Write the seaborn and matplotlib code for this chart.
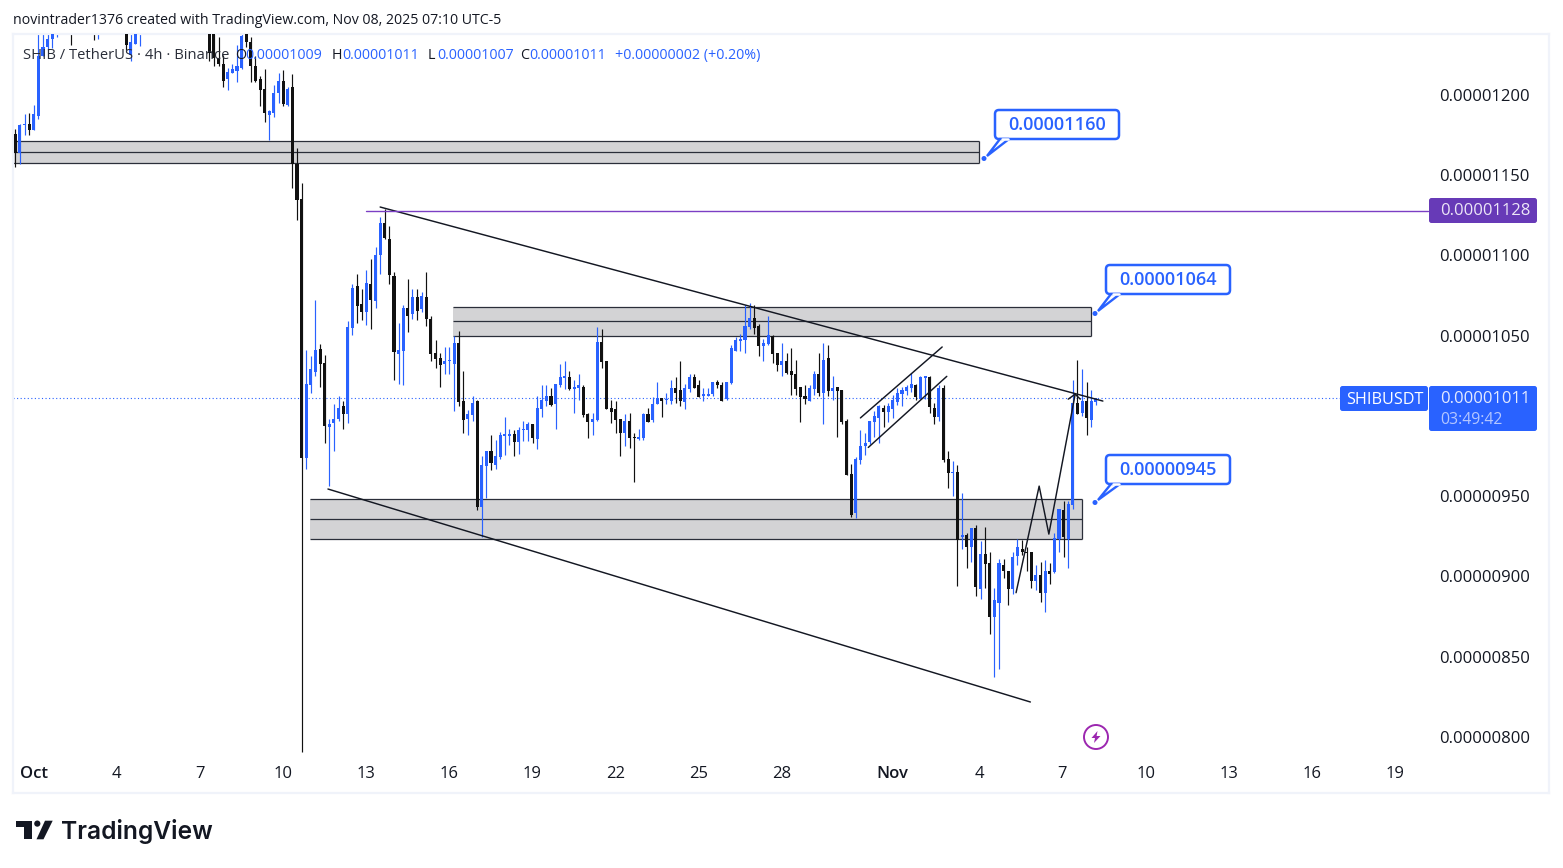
import numpy as np
import pandas as pd
import seaborn as sns
import matplotlib
matplotlib.use("Agg")
import matplotlib.pyplot as plt
from matplotlib.patches import Rectangle, FancyBboxPatch, Polygon, Circle

# SHIB/USDT 4h candles, prices in units of 1e-8 USDT
opens = [1176,1164,1181,1182,1178,1187,1224,1230,1235,1238,
 1258,1266,1260,1245,1258,1268,1262,1250,1245,1255,
 1270,1265,1258,1250,1262,1225,1232,1240,1256,1264,
 1258,1268,1262,1262,1275,1284,1278,1268,1274,1262,
 1268,1270,1260,1245,1223,1219,1210,1214,1215,1217,
 1245,1233,1218,1210,1204,1187.5,1189,1201,1209,1194,
 1205,1157,1135,974,1019,1027.6,1042,1033,993,995.5,
 998,1006,1001,1055,1081,1070,1065,1082,1071.7,1100,
 1120,1110,1087,1038.6,1040.5,1067.3,1063.6,1074,1066.7,1074,
 1060.4,1039,1036,1032.6,1034,1032.6,1045.3,1009.4,998.2,1000.6,
 1009.4,943,969,978,969.5,974.5,987.5,987.8,989,984,
 991,991,995,985.7,1004.4,1009.4,1012.5,1007.5,1019.3,1023.7,
 1024.3,1016.8,1017.5,1018,1001,996.3,997.5,1046,1034.3,1005,
 1004.4,998,989.4,997,986.5,985.7,986.3,1001.3,997.5,1007.5,
 1011.2,1009.8,1009.4,1017.5,1016.2,1008.7,1016.8,1024.3,1019.3,1012.5,
 1012.5,1013.7,1021.2,1019.3,1010.6,1020.6,1040.5,1046.8,1047.4,1055.5,
 1061,1056,1043.6,1044.9,1049.9,1039.3,1031.8,1034.3,1028,1026.2,
 1018,1012.5,1009.4,1016.8,1026.2,1014.4,1036.2,1015.6,1018,1016.2,
 996.9,963.9,939.6,972.5,981.3,983.7,996.2,998.7,1004.7,1002.4,
 1004.3,1008.7,1013.7,1015.5,1017.4,1019.3,1010.5,1023.8,1024.5,1004.9,
 999.3,1017.4,973.2,964.4,965,924.3,925.8,918.3,930.2,892.2,
 914,908.4,874.7,883.5,907.1,903.4,892.2,912.7,917.1,915.2,
 915.2,897.2,900.9,889.7,903.4,902.8,923.3,941.4,923.3,944.5,
 1008,1001.9,1009.3,997.5,1009]
highs = [1179,1182,1188,1189,1194,1240,1240,1245,1250,1262,
 1270,1275,1268,1262,1272,1280,1270,1262,1258,1275,
 1282,1278,1268,1270,1268,1240,1252,1262,1270,1275,
 1272,1282,1285,1282,1290,1296,1288,1280,1284,1272,
 1278,1276,1268,1255,1236,1225,1217,1219,1231,1245,
 1250,1236,1224,1212,1216,1190.5,1206,1214,1215.6,1205,
 1213,1167,1145,1041,1037.4,1072,1045,1038,998,1007.5,
 1012.5,1009.4,1059,1082,1088.5,1079,1091,1098,1105.5,1124,
 1128.8,1118.4,1090,1058,1069,1085.4,1079,1079,1077,1090,
 1062,1047.4,1039,1043,1043,1050,1053,1028,1004,1012.5,
 1010,975,978,988,985,990,999.4,992,991.3,993,
 997,996.3,995,1012.5,1019.3,1019.3,1017.5,1020,1032.4,1034.3,
 1028,1022.5,1026,1019.3,1001.7,1001.9,1055.5,1054.2,1034.3,1010,
 1009.4,998,1001.3,1001.9,989.4,992,1001.9,1005,1011.7,1021.2,
 1011.2,1014.4,1022.5,1024.3,1034.3,1020,1026.2,1026.2,1022.5,1017.5,
 1017.5,1021.2,1022.5,1021.2,1021.2,1044.3,1049.2,1051,1069,1070.4,
 1069,1057.4,1048,1062.3,1050.5,1039.3,1045.5,1039.3,1042.4,1034.9,
 1018,1019.3,1019.3,1028,1039.3,1045.5,1044.3,1025,1018,1016.2,
 998.2,970,974.5,991.2,989.4,996.8,1003,1006.8,1006.8,1007.8,
 1013,1017.2,1018,1019.3,1026.7,1020,1024.9,1024.9,1024.9,1007.8,
 1019.3,1019.3,978.1,971.9,969.4,952,927,930.2,932,922,
 930.8,915.2,892.8,910.9,910.9,903.4,915.2,923.1,922.7,918.3,
 915.2,907.1,909,910.2,908.4,927.1,942,947,947,1022.4,
 1034.9,1029.3,1021.2,1016.2,1011]
lows = [1155,1157,1175,1175,1178,1185,1224,1228,1229,1236,
 1252,1255,1231,1240,1250,1258,1246,1234,1235,1250,
 1258,1252,1244,1246,1228,1221,1232,1230.5,1248,1252,
 1246,1260,1238,1238.5,1262,1270,1262,1254,1260,1250,
 1258,1256,1221,1218,1218,1205,1203,1214,1208,1216,
 1230,1208,1208,1193,1183,1172,1186.5,1195,1193,1193,
 1142,1122,790.6,967,1014.5,1025,1018,983.4,956.4,978.4,
 997,992,995.4,1050.7,1058,1060,1057,1054.4,1067.3,1088.5,
 1110.5,1082.5,1022.4,1020,1019.3,1052.4,1060.7,1060,1065,1056,
 1034.3,1030,1018.3,1026,1026,1003.3,1006.5,989.6,988,997,
 941.4,924.4,949,966.6,967,973.4,975.7,982,975,976.3,
 984.6,984.4,983.4,979.5,999.6,1006.3,1006.3,992,1018.3,1017,
 1016.2,1002,1010,999.6,986.3,988,997,1030,1004.4,995.7,
 989.4,975,981.3,980,958.9,985,985,996.3,996.3,1007.5,
 999.4,1007.5,1007.5,1008,1006.3,1004.4,1015,1017.5,1011.9,1009.4,
 1012.5,1012.5,1017.5,1009.4,1010,1020,1040.5,1040.5,1039.3,1054.2,
 1051,1037.4,1034.3,1044.3,1033,1028,1025,1026.2,1013,1013,
 996.3,1007.5,1009.4,1013,1012.5,995,1012.5,1010,987,995,
 963.3,937,936.5,970,975.6,982.5,986.9,983,993,996.2,
 998.7,1006.8,1006.2,1013,1014.9,1010,1010.5,1010.5,1001.8,995,
 996.8,971.3,955,950,894,917,905.2,909,887.8,886,
 892.8,864.1,837.3,842.3,899,882.2,889,907,913.4,903.4,
 892.8,891.6,884,877.8,895.3,902.2,915.2,912,905.3,942,
 1001.2,1000,988.1,993.1,1007]
closes = [1164,1181,1182,1178,1188,1224,1230,1235,1238,1258,
 1266,1260,1245,1258,1268,1262,1250,1245,1255,1270,
 1265,1258,1250,1262,1231,1233,1240,1256,1264,1258,
 1268,1276,1280,1275,1284,1278,1268,1274,1262,1268,
 1270,1260,1226,1223,1219,1209,1214.5,1216,1218,1237,
 1233,1218,1209,1203,1189,1190,1201.5,1209,1194.4,1204,
 1157,1134.6,974,1020,1029,1041,1032.6,994,995,998,
 1005,1001,1055.5,1080,1068.6,1065,1083,1072,1100,1120,
 1111,1088,1040,1041,1067.3,1062.3,1074,1065.4,1075,1060.4,
 1038.6,1035.5,1031.8,1034.3,1034.5,1045.3,1009,997.5,1001,1008.3,
 943,969.5,978,971,975,988,989,989,984,991.3,
 991.5,995,986.3,1005,1010,1012.5,1007,1020,1024.3,1025,
 1016.8,1018,1019.3,1000.6,996.3,998,1046,1033.9,1004.4,1002.5,
 997.5,989.4,996.9,986.3,986,987,1001.3,996.3,1007.5,1011.2,
 1009.4,1010.4,1017.5,1014.4,1009.4,1017.5,1024.3,1017.5,1011.9,1013.1,
 1013.1,1021.2,1019.3,1009.4,1021.2,1042.4,1047.4,1048,1056,1061,
 1054.9,1043.6,1045.5,1050.5,1038.7,1031.8,1034.3,1026.8,1025.6,1016.8,
 1011.9,1010.6,1017.5,1026.2,1014.4,1034.9,1015.6,1017.5,1015.6,996.3,
 963.3,938.3,973.2,981.3,983.1,996.8,999.9,1006.2,1002.4,1006.2,
 1009.9,1014.3,1016.1,1018,1019.9,1011.8,1024.2,1024.9,1005.6,999.3,
 1017.4,972.5,964.4,965,923,925.7,918.3,930.2,893.4,914,
 907.8,874.7,885.3,908.4,903.4,892.2,912.1,918.3,915.2,914.4,
 897.2,900.9,889.7,903.4,901.5,924,942,924.6,945.1,1008,
 1001.2,1009.3,998.7,1009.3,1011]

# The 1000 level sits behind the last-price badge, so it gets no scale label
price_ticks = [800, 850, 900, 950, 1050, 1100, 1150, 1200]
date_ticks = [3.95, 21.95, 39.95, 57.95, 75.95, 93.95, 111.95, 129.95, 147.95, 165.95,
              189.9, 208.7, 226.7, 244.8, 262.7, 280.7, 298.7]
date_labels = ["Oct", "4", "7", "10", "13", "16", "19", "22", "25", "28",
               "Nov", "4", "7", "10", "13", "16", "19"]

# Supply/demand zones: left, right (candle index), top, middle, bottom
zone_left = [-0.5, 94.8, 63.8]
zone_right = [208.7, 233, 231]
zone_top = [1171.3, 1067.7, 948.1]
zone_mid = [1164.5, 1059, 935.6]
zone_bottom = [1157.6, 1049.9, 923.4]

# Drawn trendlines, one row per vertex
line_names = ["upper", "upper", "lower", "lower", "flag_a", "flag_a", "flag_b", "flag_b",
              "zig", "zig", "zig", "zig", "head", "head", "head"]
line_x = [79, 235.5, 67.7, 219.8, 183, 200.7, 184.7, 201.7, 216.7, 221.7, 223.8, 229.5, 228, 229.5, 230.6]
line_y = [1130.2, 1009.3, 954.5, 821.8, 998.8, 1043, 980.4, 1024.7, 889.9, 956.3, 926.4, 1013.6,
          1010.5, 1013.6, 1010.5]

level_price = 1128
last_price = 1011
target_labels = ["0.00001160", "0.00001064", "0.00000945"]

BLUE = "#2962ff"
INK = "#131722"
W, H = 1563, 868
UI_FONT = ["Open Sans", "DejaVu Sans"]
SCALE_SIZE = 12.0

sns.set_theme(style="white")
plt.rcParams["font.family"] = UI_FONT
fig = plt.figure(figsize=(W / 100, H / 100), dpi=100, facecolor="white")


def px_rect(x0, y0, x1, y1):
    return [x0 / W, 1 - y1 / H, (x1 - x0) / W, (y1 - y0) / H]


ax = fig.add_axes(px_rect(13, 34, 1549, 793), zorder=1)
ax.set_xlim(-0.5, 332.1)
ax.set_ylim(765.1, 1238.0)
for s in ax.spines.values():
    s.set_color("#f0f3fa")
    s.set_linewidth(1.6)

k = np.arange(len(opens))
o, h, l, c = map(np.array, (opens, highs, lows, closes))
candles = pd.DataFrame({"k": k, "open": o, "high": h, "low": l, "close": c})
candles["up"] = candles["close"] >= candles["open"]
colors = np.where(candles["up"], BLUE, "#111111")

# Zones sit underneath the candles; only the right side carries an edge
for x0, x1, t, m, b in zip(zone_left, zone_right, zone_top, zone_mid, zone_bottom):
    ax.add_patch(Rectangle((x0, b), x1 - x0, t - b, facecolor="#d3d3d5", edgecolor="none", zorder=1))
    ax.hlines([t, m, b], x0, x1, color="#2a2e39", lw=0.9, zorder=1.1)
    ax.vlines(x1, b, t, color="#2a2e39", lw=0.9, zorder=1.1)

ax.plot([-0.5, 286.9], [last_price, last_price], color=BLUE, lw=0.8, ls=(0, (1, 2.2)), zorder=1.2)
ax.vlines(k, l, h, colors=colors, linewidth=0.85, zorder=2)
body_low = np.minimum(o, c)
body_h = np.maximum(np.abs(c - o), 1.0)
ax.bar(k, body_h, bottom=body_low, width=0.66, color=colors, linewidth=0, zorder=3)

# Trendlines and the horizontal level
drawn = pd.DataFrame({"name": line_names, "x": line_x, "y": line_y})
sns.lineplot(data=drawn, x="x", y="y", units="name", estimator=None, sort=False,
             color="#131722", linewidth=1.05, ax=ax, zorder=4, legend=False)
sns.lineplot(x=[75.9, 305.8], y=[level_price, level_price], color="#7b3fc4", linewidth=1.0,
             ax=ax, zorder=4, legend=False, errorbar=None)

ax.set_xlabel("")
ax.set_ylabel("")
ax.set_xticks(date_ticks)
ax.set_xticklabels(date_labels, fontsize=SCALE_SIZE, color=INK)
ax.tick_params(axis="x", length=0, pad=-19.6)
for lab, txt in zip(ax.get_xticklabels(), date_labels):
    if txt in ("Oct", "Nov"):
        lab.set_fontweight("semibold")
ax.yaxis.tick_right()
ax.set_yticks(price_ticks)
ax.set_yticklabels([f"{v * 1e-8:.8f}" for v in price_ticks], fontsize=SCALE_SIZE, color=INK, ha="left")
ax.tick_params(axis="y", length=0, pad=-78.9)
ax.grid(False)

# Pixel-addressed overlay for labels and decoration
ov = fig.add_axes([0, 0, 1, 1], zorder=5)
ov.set_xlim(0, W)
ov.set_ylim(H, 0)
ov.axis("off")
ov.patch.set_alpha(0)


def label(x, y, s, size=SCALE_SIZE, color=INK, ha="left", weight="normal", family=None):
    return ov.text(x, y, s, fontsize=size, color=color, ha=ha, va="center", fontweight=weight,
                   family=family or UI_FONT)


def box(x0, y0, x1, y1, face, r=2.5):
    ov.add_patch(FancyBboxPatch((x0 + r, y0 + r), x1 - x0 - 2 * r, y1 - y0 - 2 * r,
                                boxstyle=f"round,pad={r},rounding_size={r}", facecolor=face,
                                edgecolor=face, linewidth=0))


label(13, 21, "novintrader1376 created with TradingView.com, Nov 08, 2025 07:10 UTC-5", size=10.2)
label(23, 55.5, "SHIB / TetherUS · 4h · Binance", size=10.6, color="#2a2e39")
for x, s, col in [(235, "O", INK), (245, "0.00001009", BLUE), (332, "H", INK), (342, "0.00001011", BLUE),
                  (428, "L", INK), (437, "0.00001007", BLUE),
                  (520, "C", INK), (529, "0.00001011", BLUE), (615, "+0.00000002 (+0.20%)", BLUE)]:
    label(x, 55.5, s, size=10.3, color=col)

# Right-hand scale badges
box(1429, 198, 1537, 223, "#673ab7")
label(1440, 211, "0.00001128", color="#ece6f7")
box(1340, 386, 1428, 411, BLUE)
label(1346, 399.5, "SHIBUSDT", color="white", weight="medium", size=11.6)
box(1429, 386, 1537, 431, BLUE)
label(1440, 399, "0.00001011", color="#e4eaff")
label(1440, 419.5, "03:49:42", color="#b4c6ff", size=11.4)

# Price-target callouts
callouts = [(995, 110, 984, 158.5), (1106, 265, 1095, 313.5), (1106, 455, 1095, 502.5)]
for (bx, by, dx, dy), s in zip(callouts, target_labels):
    ov.add_patch(FancyBboxPatch((bx + 4, by + 4), 116, 21, boxstyle="round,pad=4,rounding_size=4",
                                facecolor="white", edgecolor=BLUE, linewidth=1.8, zorder=6))
    ov.add_patch(Polygon([(bx + 14, by + 29), (dx + 3, dy - 2.5), (bx + 5, by + 29)], closed=True,
                         facecolor="white", edgecolor=BLUE, linewidth=1.7, zorder=6.1))
    ov.plot([bx + 6.5, bx + 12.5], [by + 28.6, by + 28.6], color="white", lw=1.8, zorder=6.2)
    ov.add_patch(Circle((dx, dy), 2.5, facecolor=BLUE, edgecolor="none", zorder=6.3))
    t = label(bx + 62, by + 15, s, size=13.1, color=BLUE, ha="center", weight="semibold")
    t.set_zorder(6.4)

# Lightning marker
ov.add_patch(Circle((1096, 737), 12, facecolor="white", edgecolor="#9c27b0", linewidth=1.4))
ov.add_patch(Polygon([(1097.5, 731), (1091.5, 738), (1095, 738), (1094, 743), (1100.5, 736),
                      (1096.6, 736)], closed=True, facecolor="#9c27b0", edgecolor="none"))

# TradingView mark and wordmark
for pts in ([(15.7, 820.7), (31.7, 820.7), (31.7, 839.3), (24, 839.3), (24, 826.5), (15.7, 826.5)],
            [(45, 820.7), (52.7, 820.7), (43.5, 839.3), (36.5, 839.3)]):
    ov.add_patch(Polygon(pts, closed=True, facecolor="#131722", edgecolor="none"))
ov.add_patch(Circle((37.3, 823.6), 3.1, facecolor="#131722", edgecolor="none"))
label(61.5, 831, "TradingView", size=17.7, color="#131722", weight="semibold", family=["Inter", "DejaVu Sans"])

fig.savefig("out.png", dpi=100, facecolor="white")
